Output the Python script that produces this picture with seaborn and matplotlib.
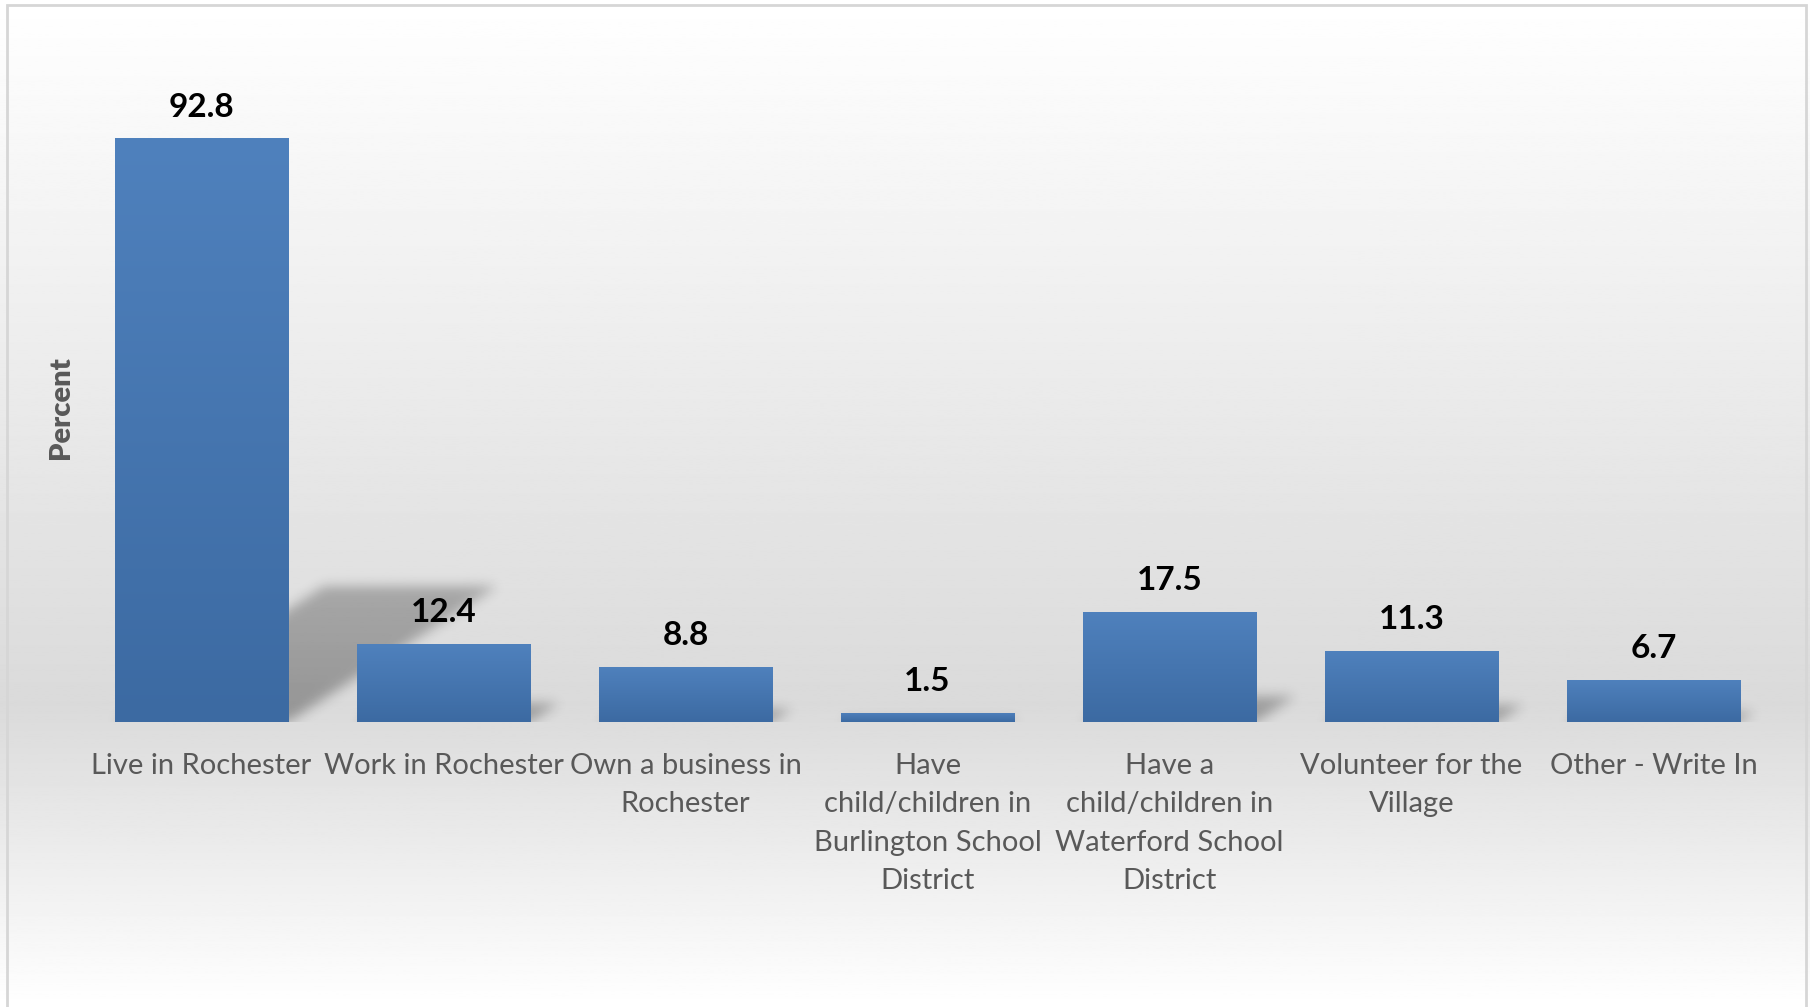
import numpy as np
import pandas as pd
import matplotlib
matplotlib.use("Agg")
import matplotlib.pyplot as plt
import seaborn as sns
from matplotlib.patches import Rectangle
from matplotlib.colors import LinearSegmentedColormap

categories = [
    "Live in Rochester",
    "Work in Rochester",
    "Own a business in\nRochester",
    "Have\nchild/children in\nBurlington School\nDistrict",
    "Have a\nchild/children in\nWaterford School\nDistrict",
    "Volunteer for the\nVillage",
    "Other - Write In",
]
percent = [92.8, 12.4, 8.8, 1.5, 17.5, 11.3, 6.7]

sns.set_theme(style="white")
plt.rcParams['font.family'] = ['Lato', 'DejaVu Sans']

W, H = 1810, 1007
fig = plt.figure(figsize=(W / 100, H / 100), dpi=100)

# background gradient (white -> light gray -> white)
bg = fig.add_axes([0, 0, 1, 1], zorder=-10)
yy = np.linspace(0, 1, 600)  # 0 = top
vals = np.where(yy < 0.7, 1 - (yy / 0.7) * (1 - 0.855), 0.855 + (yy - 0.7) / 0.3 * (1 - 0.855))
grad = np.tile(vals[:, None], (1, 2))
bg.imshow(grad, cmap="gray", vmin=0, vmax=1, aspect="auto", extent=[0, 1, 0, 1])
bg.set_xlim(0, 1)
bg.set_ylim(0, 1)
bg.axis("off")
bg.add_patch(Rectangle((7 / W, -0.01), (1806 - 7) / W, 1 - 5 / H + 0.01,
                       fill=False, edgecolor="#d6d6d6", linewidth=2))

ax_px_w, ax_px_h = 1694, 629
ax = fig.add_axes([80.5 / W, 1 - 722 / H, ax_px_w / W, ax_px_h / H])
ax.patch.set_alpha(0)
df = pd.DataFrame({"cat": categories, "pct": percent})
sns.barplot(data=df, x="cat", y="pct", ax=ax, color="#4a7ab5", width=0.715,
            saturation=1, zorder=3, linewidth=0, edgecolor="none")
XL = (-0.5, len(categories) - 0.5)
YL = (0, 100)

bar_cmap = LinearSegmentedColormap.from_list("bar", ["#3c6aa2", "#4f81bd"])
grad_bar = np.linspace(0, 1, 256)[:, None]

# grid for soft shadows (pixel resolution of the axes)
gx = np.linspace(XL[0], XL[1], ax_px_w)
gy = np.linspace(YL[0], YL[1], ax_px_h)
GX, GY = np.meshgrid(gx, gy)
shadow = np.zeros_like(GX)
s_shift, k_h = 0.0093, 0.233
for p in list(ax.patches):
    x0, w, h = p.get_x(), p.get_width(), p.get_height()
    x1 = x0 + w
    im = ax.imshow(grad_bar, cmap=bar_cmap, origin="lower", aspect="auto",
                   extent=[x0, x1, 0, h], zorder=4)
    im.set_clip_path(p)
    top = k_h * h
    slope = s_shift / k_h
    inside = (GY <= top) & (GX >= x0 + slope * GY) & (GX <= x1 + slope * GY)
    t = np.clip(GY / max(top, 1e-9), 0, 1)
    shadow = np.maximum(shadow, inside * (0.32 * (1 - 0.2 * t)))


def blur(a, sigma, axis):
    r = int(3 * sigma)
    xk = np.arange(-r, r + 1)
    k = np.exp(-xk ** 2 / (2 * sigma ** 2))
    k /= k.sum()
    return np.apply_along_axis(lambda v: np.convolve(v, k, mode="same"), axis, a)


shadow = blur(blur(shadow, 6, 1), 6, 0)
rgba = np.zeros(shadow.shape + (4,))
rgba[..., 3] = shadow
ax.imshow(rgba, origin="lower", aspect="auto", extent=[XL[0], XL[1], YL[0], YL[1]],
          zorder=2, interpolation="bilinear")

ax.set_xlim(*XL)
ax.set_ylim(*YL)

ax.bar_label(ax.containers[0], labels=[f"{v:.1f}" for v in percent], padding=12,
             fontsize=24, fontweight="bold", color="black")

ax.set_xticks(range(len(categories)))
ax.set_xticklabels(categories, fontsize=21, color="#595959", linespacing=1.6)
ax.tick_params(axis="x", length=0, pad=22)
ax.set_yticks([])
ax.set_xlabel("")
ax.set_ylabel("Percent", fontsize=21, fontweight="heavy", color="#595959")
ax.yaxis.set_label_coords(-0.004, 0.5)
for sp in ax.spines.values():
    sp.set_visible(False)

fig.savefig("out.png", dpi=100)
